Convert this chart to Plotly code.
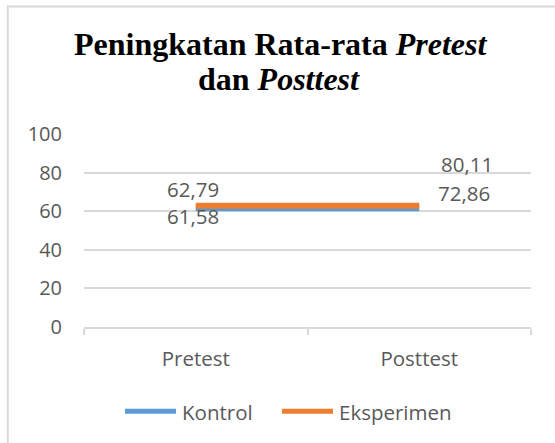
import plotly.graph_objects as go

# ---------------- data ----------------
categories = ["Pretest", "Posttest"]
series_names = ["Kontrol", "Eksperimen"]
kontrol = [61.58, 72.86]            # values shown in the data labels
eksperimen = [62.79, 80.11]
kontrol_line = [61.58, 61.58]       # line levels as drawn in the reference
eksperimen_line = [62.79, 62.79]
y_ticks = [0, 20, 40, 60, 80, 100]
title_lines = ["<b>Peningkatan Rata-rata <i>Pretest</i></b>", "<b>dan <i>Posttest</i></b>"]

# ---------------- style ----------------
colors = {"Kontrol": "#5b9bd5", "Eksperimen": "#ed7d31"}
grey_text = "#595959"
grid_col = "#d9d9d9"
FONT = "Open Sans"
SERIF = "Liberation Serif, Times New Roman, serif"
# (xshift, yshift) per label in px
label_shift = {"Kontrol": [(-3, -8), (45, -6.2)],
               "Eksperimen": [(-2.5, 17), (47.5, 8.3)]}

W, H = 555, 443
L, R, T, B = 84, 24, 134, 116.3
pw, ph = W - L - R, H - T - B


def px(x):
    return (x - L) / pw


def py(y):
    return (H - B - y) / ph


fig = go.Figure()
lines = {"Kontrol": kontrol_line, "Eksperimen": eksperimen_line}
labels = {"Kontrol": kontrol, "Eksperimen": eksperimen}
for name in series_names:
    fig.add_trace(go.Scatter(x=categories, y=lines[name], mode="lines", name=name,
                             line=dict(color=colors[name], width=6),
                             showlegend=False, hoverinfo="skip"))

annotations = []
for name in series_names:
    for i, (c, v) in enumerate(zip(categories, labels[name])):
        xs, ys = label_shift[name][i]
        annotations.append(dict(x=c, y=v, xref="x", yref="y",
                                text=f"{v:.2f}".replace(".", ","),
                                showarrow=False, xshift=xs, yshift=ys,
                                xanchor="center", yanchor="middle",
                                font=dict(family=FONT, size=20.5, color=grey_text)))

# title (two lines)
annotations.append(dict(x=px(281), y=py(44), xref="paper", yref="paper",
                        text=title_lines[0], showarrow=False,
                        xanchor="center", yanchor="middle",
                        font=dict(family=SERIF, size=32, color="black")))
annotations.append(dict(x=px(278.5), y=py(79), xref="paper", yref="paper",
                        text=title_lines[1], showarrow=False,
                        xanchor="center", yanchor="middle",
                        font=dict(family=SERIF, size=32, color="black")))

shapes = []
# custom legend
legend_items = [(series_names[0], 125, 176, 182), (series_names[1], 282, 333, 339)]
for name, x0, x1, xt in legend_items:
    shapes.append(dict(type="line", xref="paper", yref="paper",
                       x0=px(x0), x1=px(x1), y0=py(410.7), y1=py(410.7),
                       line=dict(color=colors[name], width=5)))
    annotations.append(dict(x=px(xt - 2), y=py(411.3), xref="paper", yref="paper",
                            text=name, showarrow=False, xanchor="left", yanchor="middle",
                            font=dict(family=FONT, size=20.5, color=grey_text)))

# chart border
shapes.append(dict(type="rect", xref="paper", yref="paper",
                   x0=px(7.7), x1=px(600), y0=py(6.7), y1=py(480),
                   line=dict(color=grid_col, width=2), layer="below"))

fig.update_layout(
    width=W, height=H,
    margin=dict(l=L, r=R, t=T, b=B, pad=0),
    paper_bgcolor="white", plot_bgcolor="white",
    showlegend=False,
    annotations=annotations, shapes=shapes,
    xaxis=dict(type="category", range=[-0.5, 1.5], showgrid=False,
               showline=True, linecolor=grid_col, linewidth=1.5,
               ticks="outside", tickson="boundaries", ticklen=6,
               tickcolor=grid_col, tickwidth=1.5,
               ticklabelstandoff=13,
               tickfont=dict(family=FONT, size=20.5, color=grey_text),
               fixedrange=True),
    yaxis=dict(range=[0, 100], tickvals=y_ticks, showgrid=True,
               gridcolor=grid_col, gridwidth=1.5, zeroline=False,
               showline=False, ticks="", ticklabelstandoff=21,
               tickfont=dict(family=FONT, size=20, color=grey_text),
               fixedrange=True),
)

fig.write_html("out.html", config={"displayModeBar": False},
               post_script="document.body.style.margin='0';")
